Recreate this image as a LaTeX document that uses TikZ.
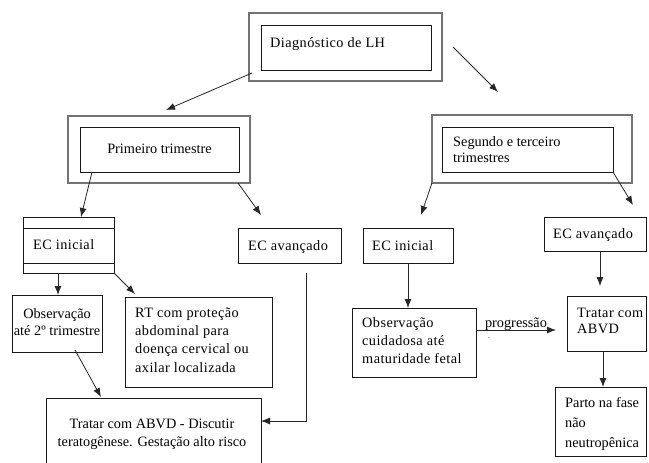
\documentclass[tikz,border=0pt]{standalone}
\usepackage{fontspec}
\setmainfont{Liberation Serif}
\newfontfamily\serfont{Liberation Serif}
\newfontfamily\widefont[LetterSpace=3]{Liberation Serif}
\usetikzlibrary{arrows.meta,calc,fit}
\begin{document}
\begin{tikzpicture}[x=1pt,y=-1pt,
  outerbox/.style={draw=black!55,line width=1.2pt,inner sep=0pt,outer sep=0pt},
  innerbox/.style={draw=black!90,line width=0.8pt,inner sep=0pt,outer sep=0pt},
  conn/.style={draw=black!85,line width=0.8pt,-{Latex[length=9pt,width=7pt]}},
  txt/.style={font=\serfont\fontsize{14.3}{18.3}\selectfont,inner sep=0pt,anchor=base west,align=left},
  wtxt/.style={font=\widefont\fontsize{14.3}{18.3}\selectfont,inner sep=0pt,anchor=base west,align=left},
  ctxt/.style={font=\serfont\fontsize{14.3}{18.3}\selectfont,inner sep=0pt,anchor=base,align=center},
]
\useasboundingbox[fill=white] (0,0) rectangle (649,463);

% boxes
\node[outerbox,fit={(249,13) (442,81)}] (diagO) {};
\node[innerbox,fit={(261,25) (431,70)}] (diagI) {};
\node[outerbox,fit={(68,116) (250,183)}] (primO) {};
\node[innerbox,fit={(80,127) (239,172)}] (primI) {};
\node[outerbox,fit={(432,115) (632,183)}] (segO) {};
\node[innerbox,fit={(442,127) (613,172)}] (segI) {};
\node[innerbox,fit={(23,217) (114,273)}] (ecL) {};
\node[innerbox,fit={(238,228) (341,263)}] (avL) {};
\node[innerbox,fit={(363,228) (453,263)}] (ecR) {};
\node[innerbox,fit={(544,217) (646,251)}] (avR) {};
\node[innerbox,fit={(12,295) (102,352)}] (obsL) {};
\node[innerbox,fit={(125,297) (272,387)}] (rt) {};
\node[innerbox,fit={(352,308) (476,377)}] (obsC) {};
\node[innerbox,fit={(567,296) (646,351)}] (tratR) {};
\node[innerbox,fit={(555,387) (646,456)}] (parto) {};
\node[innerbox,fit={(46,398) (261,470)}] (trat) {};

% inner rules of the left "EC inicial" box
\draw[innerbox] ($(ecL.north west)+(0,11)$) -- ($(ecL.north east)+(0,11)$);
\draw[innerbox] ($(ecL.south west)+(0,-10)$) -- ($(ecL.south east)+(0,-10)$);

% texts (multi-line nodes: base = last line)
\node[wtxt] (diagT) at (270,47) {Diagnóstico de LH};
\node[ctxt] (primT) at (159.5,153) {Primeiro trimestre};
\node[txt,font=\serfont\fontsize{14.3}{16}\selectfont] (segT) at (453,162) {Segundo e terceiro\\trimestres};
\node[wtxt] (ecLT) at (33,249) {EC inicial};
\node[wtxt] (avLT) at (248,250) {EC avançado};
\node[wtxt] (ecRT) at (372,250) {EC inicial};
\node[wtxt] (avRT) at (553,238) {EC avançado};
\node[ctxt,font=\serfont\fontsize{14.3}{17}\selectfont] (obsLT) at (57,335) {Observação\\até 2º trimestre};
\node[wtxt] (rtT) at (135,372) {RT com proteção\\abdominal para\\doença cervical ou\\axilar localizada};
\node[wtxt,font=\widefont\fontsize{14.3}{18}\selectfont] (obsCT) at (362,363) {Observação\\cuidadosa até\\maturidade fetal};
\node[ctxt] (progT) at (516,327) {progressão};
\node[txt,font=\serfont\fontsize{8}{8}\selectfont] (dotT) at (488,338) {.};
\node[wtxt,font=\widefont\fontsize{14.3}{16}\selectfont] (tratRT) at (577,333) {Tratar com\\ABVD};
\node[ctxt,font=\serfont\fontsize{14.3}{18}\selectfont] (tratT) at (152,446) {Tratar com ABVD - Discutir\\teratogênese. Gestação alto risco};
\node[txt,font=\serfont\fontsize{14.3}{20}\selectfont] (partoT) at (565,447) {Parto na fase\\não\\neutropênica};

% connectors
\coordinate (a1s) at ($(diagO.south west)+(3,-8)$);
\coordinate (a1e) at (166,110);
\draw[conn] (a1s) -- (a1e);
\coordinate (a2s) at ($(diagO.east)+(11,0)$);
\coordinate (a2e) at (498,92);
\draw[conn] (a2s) -- (a2e);
\draw[conn] ($(primI.south west)+(12,0)$) -- ($(ecL.north west)+(58,0)$);
\coordinate (a4e) at (261,215);
\draw[conn] ($(primO.south east)+(-12,0)$) -- (a4e);
\coordinate (a5e) at (421,215);
\draw[conn] (segO.south west) -- (a5e);
\coordinate (a6e) at (633,205);
\draw[conn] (segI.south east) -- (a6e);
\draw[conn] ($(ecL.south west)+(35,0)$) -- ($(obsL.north west)+(46,0)$);
\coordinate (a8e) at (135,294);
\draw[conn] (ecL.south east) -- (a8e);
\coordinate (a9s) at ($(avL.south west)+(68,10)$);
\coordinate (a9m) at (306,421);
\draw[conn] (a9s) -- (a9m) -- (trat.east |- a9m);
\draw[conn] ($(ecR.south west)+(45,0)$) -- ($(obsC.north west)+(56,0)$);
\coordinate (a11e) at (556,330);
\draw[conn] (obsC.east |- a11e) -- (a11e);
\coordinate (a12e) at (600,286);
\draw[conn] (avR.south -| a12e) -- (a12e);
\draw[conn] ($(tratR.south west)+(36,0)$) -- ($(parto.north west)+(48,0)$);
\coordinate (a14s) at (75,350);
\coordinate (a14e) at (101,397);
\draw[conn] (a14s) -- (a14e);
\end{tikzpicture}
\end{document}
